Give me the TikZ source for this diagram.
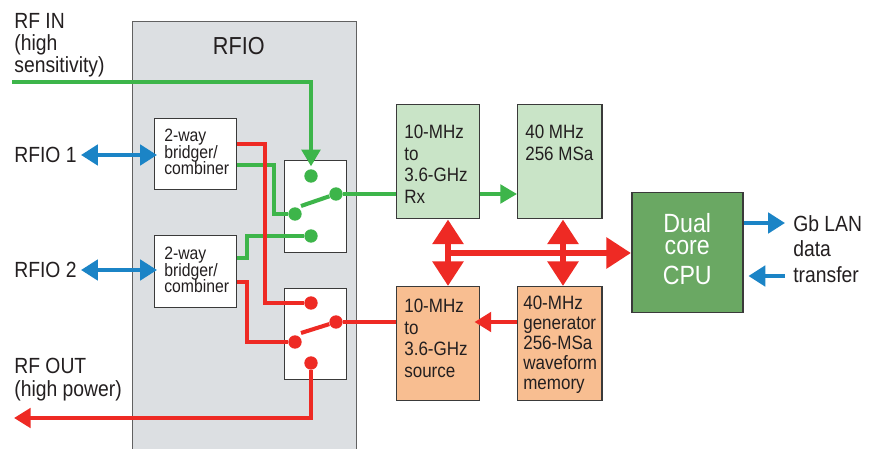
\documentclass[tikz,border=0pt]{standalone}
\usepackage{fontspec}
\setmainfont{Liberation Sans}[FakeStretch=0.88]
\usetikzlibrary{arrows.meta}
\definecolor{grn}{HTML}{3DB54A}
\definecolor{rd}{HTML}{EE2A24}
\definecolor{blu}{HTML}{1B84C6}
\definecolor{rfiogray}{HTML}{DCDFE2}
\definecolor{rxfill}{HTML}{C9E4C7}
\definecolor{orfill}{HTML}{F8BE91}
\definecolor{cpufill}{HTML}{6AA863}
\definecolor{bord}{HTML}{3A3A3A}
\definecolor{txtc}{HTML}{231F20}
\newcommand\pxu{0.02cm}
\begin{document}
\begin{tikzpicture}[x=0.02cm,y=-0.02cm,
  box/.style={draw=bord, line width=0.85pt, rectangle, inner sep=0, anchor=north west},
  wire/.style={line width=2.3pt},
  gw/.style={wire, draw=grn, >={Triangle[length=9.5pt,width=10.5pt]}},
  rw/.style={wire, draw=rd, >={Triangle[length=9.5pt,width=11pt]}},
  bw/.style={wire, draw=blu, >={Triangle[length=9.6pt,width=11.5pt]}},
  bus/.style={line width=3.7pt, draw=rd, >={Triangle[length=14pt,width=17pt]}},
  dot/.style={circle, fill=#1, inner sep=0, minimum size=7.6pt},
  lab/.style={font=\fontsize{12.5pt}{12.5pt}\selectfont, text=txtc, inner sep=0, align=left},
  boxt/.style={font=\fontsize{11pt}{12.2pt}\selectfont, text=txtc, inner sep=0, align=left, anchor=north west},
  gent/.style={font=\fontsize{11pt}{11.3pt}\selectfont, text=txtc, inner sep=0, align=left, anchor=north west},
  bridt/.style={font={\fontsize{10.2pt}{9.4pt}\selectfont\lineskiplimit=-5pt\relax}, text=txtc, inner sep=0, align=left, anchor=north west}
]
\useasboundingbox (0,0) rectangle (879,449);
\clip (0,0) rectangle (879,449);
\fill[white] (0,0) rectangle (879,449);

% RFIO panel
\node[box, fill=rfiogray, draw=bord!80, minimum width={224*\pxu}, minimum height={445*\pxu}] (rfio) at (132,21) {};
\node[anchor=north, inner sep=0, text=txtc, font=\fontsize{14pt}{14pt}\selectfont] (rfiot) at ([xshift=-3.4pt,yshift=-9.1pt]rfio.north) {RFIO};

% bridgers
\node[box, fill=white, minimum width={82*\pxu}, minimum height={71*\pxu}] (br1) at (154,118) {};
\node[box, fill=white, minimum width={82*\pxu}, minimum height={72*\pxu}] (br2) at (154,235) {};
\node[bridt] (br1t) at ([xshift=5.67pt,yshift=-6.2pt]br1.north west) {2-way\\bridger/\\combiner};
\node[bridt] (br2t) at ([xshift=5.67pt,yshift=-6.8pt]br2.north west) {2-way\\bridger/\\combiner};

% switches
\node[box, fill=white, minimum width={62*\pxu}, minimum height={92*\pxu}] (sw1) at (284,160) {};
\node[box, fill=white, minimum width={62*\pxu}, minimum height={91*\pxu}] (sw2) at (284,288) {};

% function boxes
\node[box, fill=rxfill, minimum width={83*\pxu}, minimum height={114*\pxu}] (rx) at (396,104) {};
\node[box, fill=rxfill, minimum width={84*\pxu}, minimum height={114*\pxu}] (m40) at (517,104) {};
\node[box, fill=orfill, minimum width={83*\pxu}, minimum height={114*\pxu}] (src) at (396,286) {};
\node[box, fill=orfill, minimum width={84*\pxu}, minimum height={114*\pxu}] (gen) at (517,286) {};
\node[box, fill=cpufill, minimum width={111*\pxu}, minimum height={120*\pxu}] (cpu) at (631,192) {};

\node[boxt] (rxt) at ([xshift=4.54pt,yshift=-11.9pt]rx.north west) {10-MHz\\to\\3.6-GHz\\Rx};
\node[boxt] (m40t) at ([xshift=4.54pt,yshift=-11.9pt]m40.north west) {40 MHz\\256 MSa};
\node[boxt] (srct) at ([xshift=4.54pt,yshift=-7.4pt]src.north west) {10-MHz\\to\\3.6-GHz\\source};
\node[gent] (gent) at ([xshift=3.4pt,yshift=-5.7pt]gen.north west) {40-MHz\\generator\\256-MSa\\waveform\\memory};
\node[anchor=north, inner sep=0, text=white, align=center, font=\fontsize{15pt}{12.6pt}\selectfont] (cput) at ([yshift=-11.9pt]cpu.north) {Dual\\core\\[4.3pt]CPU};

% outside labels
\node[lab, anchor=north west] (rfinl) at (14,13) {RF IN\\(high\\sensitivity)};
\node[lab, anchor=west] (rf1l) at (14,155) {RFIO 1};
\node[lab, anchor=west] (rf2l) at (14,270) {RFIO 2};
\node[lab, anchor=north west, font=\fontsize{12.5pt}{13pt}\selectfont] (rfoutl) at (14,358) {RF OUT\\(high power)};
\node[lab, anchor=north west, font=\fontsize{12.5pt}{14.5pt}\selectfont] (lanl) at (793,215) {Gb LAN\\data\\transfer};

% switch contacts
\node[dot=grn] (s1a) at (311,176) {};
\node[dot=grn] (s1p) at (336,194) {};
\node[dot=grn] (s1c) at (295,214) {};
\node[dot=grn] (s1d) at (311,236) {};
\node[dot=rd] (s2a) at (311,303) {};
\node[dot=rd] (s2p) at (336,322) {};
\node[dot=rd] (s2c) at (295,342) {};
\node[dot=rd] (s2d) at (311,363) {};

% free ends
\coordinate (rfinS) at (12,82);
\coordinate (rfoutE) at (14,418);
\coordinate (rf1E) at (81,155);
\coordinate (rf2E) at (81,270);
\coordinate (lanO) at (785,223);
\coordinate (lanI) at (785,276);
\coordinate (busA) at (448,253);
\coordinate (busB) at (563,253);
\coordinate (s1arm) at (301,206);
\coordinate (s2arm) at (301,333);

% green paths
\draw[gw,->,shorten >=1.5pt] (rfinS) -| (s1a);
\draw[gw] (br1.east |- 0,165) -| (274,214) -- (s1c);
\draw[gw] (br2.east |- 0,258) -| (247,236) -- (s1d);
\draw[gw] (s1arm) -- (s1p);
\draw[gw] (s1p) -- (rx.west |- s1p);
\draw[gw,->] (rx.east |- s1p) -- (m40.west |- s1p);

% red paths
\draw[rw] (br1.east |- 0,144) -| (265,303) -- (s2a);
\draw[rw] (br2.east |- 0,282) -| (247,342) -- (s2c);
\draw[rw] (s2arm) -- (s2p);
\draw[rw] (s2p) -- (src.west |- s2p);
\draw[rw,->,shorten >=-3.4pt] (gen.west |- s2p) -- (src.east |- s2p);
\draw[rw,->] (s2d) |- (rfoutE);

% data bus
\draw[bus,<->] (busA |- rx.south) -- (busA |- src.north);
\draw[bus,<->] (busB |- m40.south) -- (busB |- gen.north);
\draw[bus,->] (busA) -- (cpu.west |- busA);

% blue links
\draw[bw,<->,shorten >=-1.7pt] (rf1E) -- (br1.west |- rf1E);
\draw[bw,<->,shorten >=-1.7pt] (rf2E) -- (br2.west |- rf2E);
\draw[bw,->] (cpu.east |- lanO) -- (lanO);
\draw[bw,->,shorten >=2.8pt] (lanI) -- (cpu.east |- lanI);
\end{tikzpicture}
\end{document}
